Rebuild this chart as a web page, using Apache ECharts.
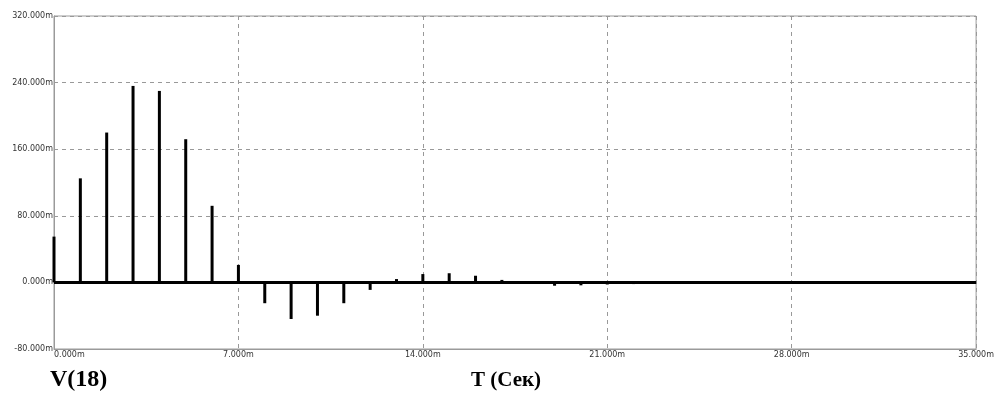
<!DOCTYPE html>
<html>
<head>
<meta charset="utf-8">
<script src="https://cdn.jsdelivr.net/npm/echarts@6/dist/echarts.min.js"></script>
<style>
html,body{margin:0;padding:0;background:#fff;}
#chart{width:997px;height:394px;}
</style>
</head>
<body>
<div id="chart"></div>
<script>
// Time of each impulse (ms) and its amplitude (mV)
var times = [0, 1, 2, 3, 4, 5, 6, 7, 8, 9, 10, 11, 12, 13, 14, 15, 16, 17, 18, 19, 20, 21, 22];
var values = [55, 125, 180, 236, 230, 172, 92, 21, -25, -44, -40, -25, -9, 4, 10, 11, 8, 3, 0, -4, -3.5, -2.5, -2];
var xTicks = [0, 7, 14, 21, 28, 35];
var yTicks = [-80, 0, 80, 160, 240, 320];
var yTitle = 'V(18)';
var xTitle = 'T (Сек)';

var chart = echarts.init(document.getElementById('chart'), null, {renderer: 'canvas'});
var pts = times.map(function (t, i) { return [t, values[i]]; });
function fmt(v) { return v.toFixed(3) + 'm'; }
var labelFont = {fontFamily: 'DejaVu Sans', fontSize: 8, color: '#333'};

chart.setOption({
  animation: false,
  backgroundColor: '#fff',
  grid: {left: 54, right: 20, top: 16, bottom: 45, show: true, borderColor: '#9a9a9a', borderWidth: 1, backgroundColor: 'transparent'},
  xAxis: {
    type: 'value', min: xTicks[0], max: xTicks[xTicks.length - 1], interval: 7,
    axisLine: {show: true, onZero: false, lineStyle: {color: '#9a9a9a', width: 1}},
    axisTick: {show: false},
    splitLine: {show: true, lineStyle: {color: '#999', type: [4, 4], width: 1}},
    axisLabel: Object.assign({formatter: fmt, margin: 2, alignMinLabel: 'left', alignMaxLabel: 'center'}, labelFont)
  },
  yAxis: {
    type: 'value', min: yTicks[0], max: yTicks[yTicks.length - 1], interval: 80,
    axisLine: {show: true, lineStyle: {color: '#9a9a9a', width: 1}},
    axisTick: {show: false},
    splitLine: {show: true, lineStyle: {color: '#999', type: [4, 4], width: 1}},
    axisLabel: Object.assign({formatter: fmt, margin: 1}, labelFont)
  },
  graphic: [
    {type: 'text', left: 50, top: 368, style: {text: yTitle, font: 'bold 24px "Liberation Serif"', fill: '#000'}},
    {type: 'text', left: 471, top: 370, style: {text: xTitle, font: 'bold 21px "Liberation Serif"', fill: '#000'}}
  ],
  series: [{
    type: 'bar',
    data: pts,
    barWidth: 3,
    itemStyle: {color: '#000'},
    silent: true,
    markLine: {
      silent: true,
      symbol: ['none', 'none'],
      label: {show: false},
      lineStyle: {color: '#000', width: 3, type: 'solid'},
      data: [{yAxis: 0}]
    }
  }]
});
</script>
</body>
</html>
